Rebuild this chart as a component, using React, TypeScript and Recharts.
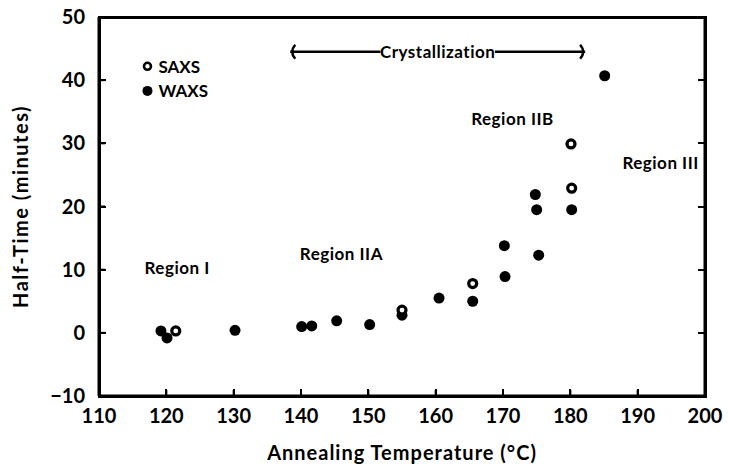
import React from "react";
import {
  ScatterChart,
  Scatter,
  XAxis,
  YAxis,
  ReferenceLine,
  ReferenceDot,
} from "recharts";

const FONT = "Lato, 'DejaVu Sans', sans-serif";

const xTicks = [110, 120, 130, 140, 150, 160, 170, 180, 190, 200];
const yTicks = [-10, 0, 10, 20, 30, 40, 50];
const X_DOMAIN = [110, 200];
const Y_DOMAIN = [-10, 50];

// half-time (minutes) vs annealing temperature (°C)
const saxsPoints = [
  { temp: 121.4, time: 0.3 },
  { temp: 155.0, time: 3.6 },
  { temp: 165.5, time: 7.8 },
  { temp: 180.1, time: 29.9 },
  { temp: 180.2, time: 22.9 },
];

const waxsPoints = [
  { temp: 119.2, time: 0.3 },
  { temp: 120.1, time: -0.8 },
  { temp: 130.2, time: 0.4 },
  { temp: 140.1, time: 1.0 },
  { temp: 141.6, time: 1.1 },
  { temp: 145.3, time: 1.9 },
  { temp: 150.2, time: 1.3 },
  { temp: 155.0, time: 2.8 },
  { temp: 160.5, time: 5.5 },
  { temp: 165.5, time: 5.0 },
  { temp: 170.2, time: 13.8 },
  { temp: 170.3, time: 8.9 },
  { temp: 174.8, time: 21.9 },
  { temp: 175.0, time: 19.5 },
  { temp: 175.3, time: 12.3 },
  { temp: 180.2, time: 19.5 },
  { temp: 185.1, time: 40.7 },
];

// legend sits inside the plot, top-left
const legendItems = [
  { temp: 117.2, time: 42.2, text: "SAXS", open: true },
  { temp: 117.2, time: 38.3, text: "WAXS", open: false },
];

const regionLabels = [
  { temp: 121.6, time: 10.3, text: "Region I" },
  { temp: 146.0, time: 12.6, text: "Region IIA" },
  { temp: 171.4, time: 34.0, text: "Region IIB" },
  { temp: 193.4, time: 26.9, text: "Region III" },
];

const crystal = { from: 138.4, textStart: 151.8, textEnd: 168.8, to: 182.2, time: 44.5 };

// chart box
const W = 729;
const H = 464;
const MARGIN = { top: 17, right: 20, bottom: 0, left: 0 };
const Y_AXIS_W = 99;
const RIGHT_AXIS_W = 4;
const X_AXIS_H = 68;
const PLOT = {
  left: MARGIN.left + Y_AXIS_W,
  top: MARGIN.top,
  width: W - MARGIN.left - MARGIN.right - Y_AXIS_W - RIGHT_AXIS_W,
  height: H - MARGIN.top - MARGIN.bottom - X_AXIS_H,
};

const tickStyle = { fontFamily: FONT, fontWeight: 700, fontSize: 20, fill: "#000" };
const frame = { stroke: "#000", strokeWidth: 3 };
const tickMark = { stroke: "#000", strokeWidth: 2 };

const fmtY = (v: number) => (v < 0 ? "\u2212" + Math.abs(v) : String(v));

function FilledDot(props: any) {
  const { cx, cy } = props;
  return <circle cx={cx} cy={cy} r={5.5} fill="#000" />;
}

function OpenDot(props: any) {
  const { cx, cy } = props;
  return <circle cx={cx} cy={cy} r={4} fill="#fff" stroke="#000" strokeWidth={3.2} />;
}

function leftArrow(props: any) {
  const { x1, y1, x2 } = props;
  const a = Math.min(x1, x2);
  const b = Math.max(x1, x2);
  return (
    <g>
      <line x1={a} x2={b} y1={y1} y2={y1} stroke="#000" strokeWidth={2.5} />
      <path d={`M ${a + 5} ${y1 - 7} Q ${a - 1} ${y1} ${a + 5} ${y1 + 7}`} stroke="#000" strokeWidth={2.5} fill="none" />
    </g>
  );
}

function rightArrow(props: any) {
  const { x1, y1, x2 } = props;
  const a = Math.min(x1, x2);
  const b = Math.max(x1, x2);
  return (
    <g>
      <line x1={a} x2={b} y1={y1} y2={y1} stroke="#000" strokeWidth={2.5} />
      <path d={`M ${b - 5} ${y1 - 7} Q ${b + 1} ${y1} ${b - 5} ${y1 + 7}`} stroke="#000" strokeWidth={2.5} fill="none" />
    </g>
  );
}

function textShape(text: string, size: number) {
  return (props: any) => (
    <text
      x={props.cx}
      y={props.cy}
      textAnchor="middle"
      dominantBaseline="central"
      fontFamily={FONT}
      fontWeight={700}
      fontSize={size}
      letterSpacing={0.5}
      fill="#000"
    >
      {text}
    </text>
  );
}

function legendShape(text: string, open: boolean) {
  return (props: any) => {
    const { cx, cy } = props;
    return (
      <g>
        {open ? (
          <circle cx={cx} cy={cy} r={3.5} fill="#fff" stroke="#000" strokeWidth={2.6} />
        ) : (
          <circle cx={cx} cy={cy} r={5} fill="#000" />
        )}
        <text x={cx + 11} y={cy} dominantBaseline="central" fontFamily={FONT} fontWeight={700} fontSize={17} fill="#000">
          {text}
        </text>
      </g>
    );
  };
}

// box + inward ticks laid over the plot area (the svg axis lines were not showing up)
function Frame() {
  const fx = (t: number) => ((t - X_DOMAIN[0]) / (X_DOMAIN[1] - X_DOMAIN[0])) * PLOT.width;
  const fy = (v: number) => PLOT.height - ((v - Y_DOMAIN[0]) / (Y_DOMAIN[1] - Y_DOMAIN[0])) * PLOT.height;
  const bar = { position: "absolute" as const, background: "#000" };
  return (
    <div
      style={{
        position: "absolute",
        left: PLOT.left,
        top: PLOT.top,
        width: PLOT.width,
        height: PLOT.height,
        pointerEvents: "none",
      }}
    >
      <div
        style={{
          position: "absolute",
          left: -1.5,
          top: -1.5,
          width: PLOT.width + 3,
          height: PLOT.height + 3,
          border: "3px solid #000",
          boxSizing: "border-box",
        }}
      />
      {xTicks.slice(1, -1).map((t) => (
        <div key={"x" + t} style={{ ...bar, left: fx(t) - 1, top: PLOT.height - 7, width: 2, height: 6 }} />
      ))}
      {yTicks.slice(1, -1).map((v) => (
        <div key={"l" + v} style={{ ...bar, left: 1, top: fy(v) - 1, width: 6, height: 2 }} />
      ))}
      {yTicks.slice(1, -1).map((v) => (
        <div key={"r" + v} style={{ ...bar, left: PLOT.width - 7, top: fy(v) - 1, width: 6, height: 2 }} />
      ))}
    </div>
  );
}

export default function App() {
  return (
    <div style={{ position: "absolute", left: 0, top: 0, width: W, height: H }}>
      <ScatterChart width={W} height={H} margin={MARGIN}>
        <XAxis
          type="number"
          dataKey="temp"
          domain={X_DOMAIN}
          ticks={xTicks}
          interval={0}
          height={X_AXIS_H}
          tickSize={-6}
          tickMargin={19}
          tick={tickStyle}
          tickLine={tickMark}
          axisLine={frame}
          label={{
            value: "Annealing Temperature (°C)",
            position: "insideBottom",
            offset: 4,
            style: { fontFamily: FONT, fontWeight: 700, fontSize: 20, letterSpacing: 1, fill: "#000" },
          }}
        />
        <YAxis
          type="number"
          dataKey="time"
          domain={Y_DOMAIN}
          ticks={yTicks}
          interval={0}
          width={Y_AXIS_W}
          tickSize={-6}
          tickMargin={20}
          tick={tickStyle}
          tickFormatter={fmtY}
          tickLine={tickMark}
          axisLine={frame}
          label={{
            value: "Half-Time (minutes)",
            angle: -90,
            position: "insideLeft",
            offset: 21,
            style: {
              textAnchor: "middle",
              fontFamily: FONT,
              fontWeight: 700,
              fontSize: 20,
              letterSpacing: 1.5,
              fill: "#000",
            },
          }}
        />
        <YAxis
          yAxisId="right"
          type="number"
          orientation="right"
          domain={Y_DOMAIN}
          ticks={yTicks}
          interval={0}
          width={RIGHT_AXIS_W}
          tickSize={-6}
          tick={false}
          tickLine={tickMark}
          axisLine={frame}
        />

        {legendItems.map((l) => (
          <ReferenceDot key={l.text} x={l.temp} y={l.time} r={0} shape={legendShape(l.text, l.open)} />
        ))}

        <ReferenceLine
          segment={[
            { x: crystal.from, y: crystal.time },
            { x: crystal.textStart, y: crystal.time },
          ]}
          shape={leftArrow}
        />
        <ReferenceLine
          segment={[
            { x: crystal.textEnd, y: crystal.time },
            { x: crystal.to, y: crystal.time },
          ]}
          shape={rightArrow}
        />
        <ReferenceDot
          x={(crystal.textStart + crystal.textEnd) / 2}
          y={crystal.time}
          r={0}
          shape={textShape("Crystallization", 17)}
        />
        {regionLabels.map((r) => (
          <ReferenceDot key={r.text} x={r.temp} y={r.time} r={0} shape={textShape(r.text, 17)} />
        ))}

        <Scatter name="WAXS" data={waxsPoints} shape={<FilledDot />} isAnimationActive={false} />
        <Scatter name="SAXS" data={saxsPoints} shape={<OpenDot />} isAnimationActive={false} />
      </ScatterChart>
      <Frame />
    </div>
  );
}
